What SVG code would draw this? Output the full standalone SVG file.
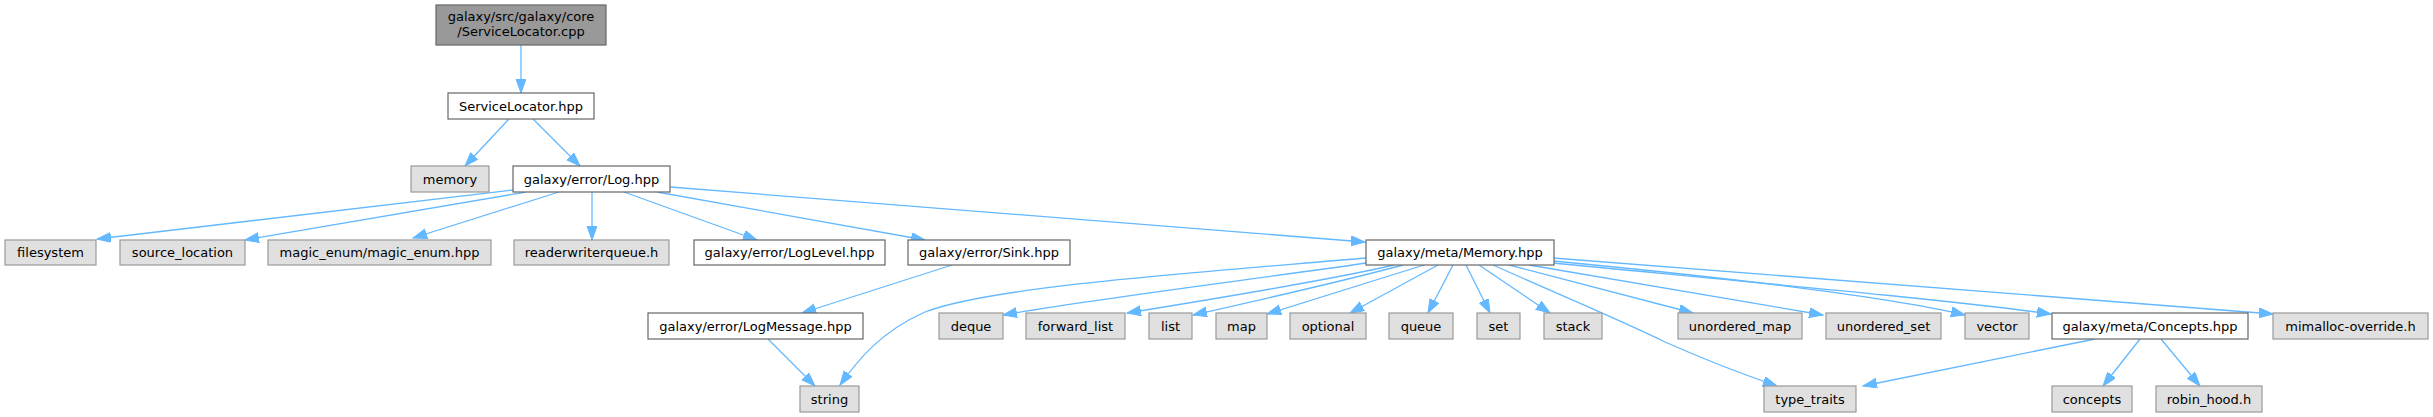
<svg xmlns="http://www.w3.org/2000/svg" width="2433" height="417" viewBox="0 0 2433 417">
<style>
text{font-family:"DejaVu Sans","Liberation Sans",sans-serif;font-size:13px;fill:#000;text-anchor:middle}
.sys rect{fill:#e0e0e0;stroke:#999999;stroke-width:1.2}
.loc rect{fill:#ffffff;stroke:#666666;stroke-width:1.2}
.root rect{fill:#999999;stroke:#666666;stroke-width:1.2}
#edges path{fill:none;stroke:#63b8ff;stroke-width:1.3;marker-end:url(#ah)}
</style>
<defs>
<marker id="ah" markerUnits="userSpaceOnUse" markerWidth="15" markerHeight="11" refX="14" refY="5" orient="auto">
<path d="M0,0 L14,5 L0,10 z" fill="#63b8ff" stroke="#63b8ff" stroke-width="1"/>
</marker>
</defs>
<rect width="2433" height="417" fill="#ffffff"/>
<g id="edges">
<path d="M521,45 L521,93"/>
<path d="M509,119 L465,166"/>
<path d="M533,119 L580,166"/>
<path d="M513,190 L97,239"/>
<path d="M526,192 L245,240"/>
<path d="M559,192 L413,238"/>
<path d="M592,192 L592,240"/>
<path d="M624,192 L757,240"/>
<path d="M657,192 L925,240"/>
<path d="M670,187 L1365,242"/>
<path d="M952,265 L802,313"/>
<path d="M768,339 L815,386"/>
<path d="M1366,258 C1180,274 990,287 925,312 C880,332 858,360 840,385"/>
<path d="M1366,263 C1250,280 1100,298 1003,315"/>
<path d="M1394,265 C1330,280 1220,298 1127,313"/>
<path d="M1403,265 C1340,282 1260,300 1193,315"/>
<path d="M1424,265 L1267,314"/>
<path d="M1438,265 L1350,313"/>
<path d="M1453,265 L1428,313"/>
<path d="M1466,265 L1490,313"/>
<path d="M1479,265 L1550,313"/>
<path d="M1493,265 C1560,295 1620,320 1665,342 C1710,362 1745,375 1777,386"/>
<path d="M1509,265 L1693,313"/>
<path d="M1529,265 L1823,315"/>
<path d="M1553,261 C1700,275 1880,295 1965,315"/>
<path d="M1553,263 C1750,282 1950,300 2051,314"/>
<path d="M1553,258 L2273,314"/>
<path d="M2095,339 L1863,386"/>
<path d="M2140,339 L2103,386"/>
<path d="M2161,339 L2200,386"/>
</g>
<g id="n_root" class="root"><rect x="436" y="5" width="170" height="40"/><text x="521" y="21">galaxy/src/galaxy/core</text><text x="521" y="36">/ServiceLocator.cpp</text></g>
<g id="n_sl" class="loc"><rect x="448" y="93" width="146" height="26"/><text x="521" y="110.5">ServiceLocator.hpp</text></g>
<g id="n_memory" class="sys"><rect x="411" y="166" width="78" height="26"/><text x="450" y="183.5">memory</text></g>
<g id="n_log" class="loc"><rect x="513" y="166" width="157" height="26"/><text x="591.5" y="183.5">galaxy/error/Log.hpp</text></g>
<g id="n_filesystem" class="sys"><rect x="5" y="240" width="91" height="25"/><text x="50.5" y="257">filesystem</text></g>
<g id="n_srcloc" class="sys"><rect x="120" y="240" width="125" height="25"/><text x="182.5" y="257">source_location</text></g>
<g id="n_magic" class="sys"><rect x="268" y="240" width="223" height="25"/><text x="379.5" y="257">magic_enum/magic_enum.hpp</text></g>
<g id="n_rwq" class="sys"><rect x="514" y="240" width="155" height="25"/><text x="591.5" y="257">readerwriterqueue.h</text></g>
<g id="n_loglevel" class="loc"><rect x="694" y="240" width="191" height="25"/><text x="789.5" y="257">galaxy/error/LogLevel.hpp</text></g>
<g id="n_sink" class="loc"><rect x="908" y="240" width="162" height="25"/><text x="989" y="257">galaxy/error/Sink.hpp</text></g>
<g id="n_memhpp" class="loc"><rect x="1366" y="240" width="188" height="25"/><text x="1460" y="257">galaxy/meta/Memory.hpp</text></g>
<g id="n_logmsg" class="loc"><rect x="648" y="313" width="215" height="26"/><text x="755.5" y="330.5">galaxy/error/LogMessage.hpp</text></g>
<g id="n_deque" class="sys"><rect x="939" y="313" width="64" height="26"/><text x="971" y="330.5">deque</text></g>
<g id="n_fwdlist" class="sys"><rect x="1026" y="313" width="99" height="26"/><text x="1075.5" y="330.5">forward_list</text></g>
<g id="n_list" class="sys"><rect x="1149" y="313" width="43" height="26"/><text x="1170.5" y="330.5">list</text></g>
<g id="n_map" class="sys"><rect x="1216" y="313" width="51" height="26"/><text x="1241.5" y="330.5">map</text></g>
<g id="n_optional" class="sys"><rect x="1290" y="313" width="76" height="26"/><text x="1328" y="330.5">optional</text></g>
<g id="n_queue" class="sys"><rect x="1389" y="313" width="64" height="26"/><text x="1421" y="330.5">queue</text></g>
<g id="n_set" class="sys"><rect x="1477" y="313" width="43" height="26"/><text x="1498.5" y="330.5">set</text></g>
<g id="n_stack" class="sys"><rect x="1544" y="313" width="58" height="26"/><text x="1573" y="330.5">stack</text></g>
<g id="n_umap" class="sys"><rect x="1678" y="313" width="124" height="26"/><text x="1740" y="330.5">unordered_map</text></g>
<g id="n_uset" class="sys"><rect x="1826" y="313" width="115" height="26"/><text x="1883.5" y="330.5">unordered_set</text></g>
<g id="n_vector" class="sys"><rect x="1965" y="313" width="64" height="26"/><text x="1997" y="330.5">vector</text></g>
<g id="n_concepts_hpp" class="loc"><rect x="2052" y="313" width="196" height="26"/><text x="2150" y="330.5">galaxy/meta/Concepts.hpp</text></g>
<g id="n_mimalloc" class="sys"><rect x="2273" y="313" width="155" height="26"/><text x="2350.5" y="330.5">mimalloc-override.h</text></g>
<g id="n_string" class="sys"><rect x="800" y="386" width="59" height="26"/><text x="829.5" y="403.5">string</text></g>
<g id="n_typetraits" class="sys"><rect x="1764" y="386" width="92" height="26"/><text x="1810" y="403.5">type_traits</text></g>
<g id="n_concepts" class="sys"><rect x="2052" y="386" width="80" height="26"/><text x="2092" y="403.5">concepts</text></g>
<g id="n_robin" class="sys"><rect x="2156" y="386" width="106" height="26"/><text x="2209" y="403.5">robin_hood.h</text></g>
</svg>
